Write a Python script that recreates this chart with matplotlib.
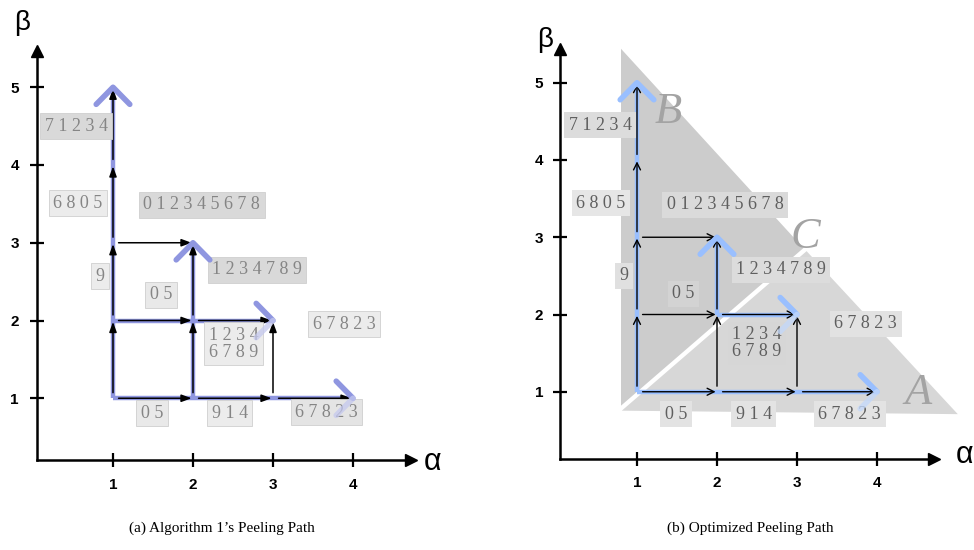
import matplotlib
matplotlib.use("Agg")
import matplotlib.pyplot as plt

# lattice (alpha, beta): black arrows, same in both panels
edges = [((1, 1), (2, 1)), ((2, 1), (3, 1)), ((3, 1), (4, 1)),
         ((1, 1), (1, 2)), ((1, 2), (1, 3)), ((1, 3), (1, 4)), ((1, 4), (1, 5)),
         ((1, 2), (2, 2)), ((2, 2), (3, 2)), ((2, 1), (2, 2)), ((2, 2), (2, 3)),
         ((1, 3), (2, 3)), ((3, 1), (3, 2))]

# blue peeling paths
paths_a = [((1, 1), (1, 5)), ((1, 1), (4, 1)), ((2, 1), (2, 3)), ((1, 2), (3, 2))]
paths_b = [((1, 1), (1, 5)), ((1, 1), (4, 1)), ((2, 2), (2, 3)), ((2, 2), (3, 2))]

alpha_ticks = [1, 2, 3, 4]
beta_ticks = [1, 2, 3, 4, 5]

labels = ["7 1 2 3 4", "6 8 0 5", "0 1 2 3 4 5 6 7 8", "1 2 3 4 7 8 9", "9", "0 5",
          "1 2 3 4\n6 7 8 9", "6 7 8 2 3", "0 5", "9 1 4", "6 7 8 2 3"]
lab_x_a = [0.54, 0.56, 2.11, 2.80, 0.84, 1.60, 2.51, 3.89, 1.49, 2.46, 3.67]
lab_y_a = [4.50, 3.51, 3.49, 2.65, 2.57, 2.33, 1.70, 1.95, 0.81, 0.81, 0.82]
box_a = ["#d9d9d9", "#ececec", "#d9d9d9", "#d9d9d9", "#ececec", "#e9e9e9",
         "#ececec", "#ececec", "#e9e9e9", "#ececec", "#e4e4e4"]
lab_x_b = [0.54, 0.55, 2.10, 2.80, 0.84, 1.58, 2.50, 3.86, 1.49, 2.46, 3.66]
lab_y_b = [4.45, 3.44, 3.42, 2.58, 2.50, 2.27, 1.63, 1.88, 0.71, 0.71, 0.71]
box_b = ["#dcdcdc", "#e6e6e6", "#dadada", "#dcdcdc", "#e0e0e0", "#d3d3d3",
         "#d6d6d6", "#e2e2e2", "#e3e3e3", "#e3e3e3", "#e3e3e3"]

# shaded regions of panel (b)
region_B = [(0.80, 5.44), (0.80, 0.82), (3.08, 2.86)]
region_A = [(0.81, 0.755), (5.01, 0.71), (3.12, 2.82)]
region_names = ["A", "B", "C"]
name_x = [4.51, 1.39, 3.10]
name_y = [0.98, 4.62, 3.00]

W, H = 974, 550
fig = plt.figure(figsize=(W / 100, H / 100), dpi=100)


def make_axes(left_px, right_px, x0px, y0px, sx, sy):
    ax = fig.add_axes([left_px / W, 0, (right_px - left_px) / W, 1])
    ax.set_xlim((left_px - x0px) / sx, (right_px - x0px) / sx)
    ax.set_ylim((y0px - H) / sy, y0px / sy)
    ax.set_facecolor("none")
    for s in ("top", "right"):
        ax.spines[s].set_visible(False)
    return ax


def axes_frame(ax, xa, ya, xtip, ytip, xpad, ypad):
    ax.spines["left"].set_position(("data", xa))
    ax.spines["left"].set_bounds(ya, ytip)
    ax.spines["bottom"].set_position(("data", ya))
    ax.spines["bottom"].set_bounds(xa, xtip)
    for s in ("left", "bottom"):
        ax.spines[s].set_linewidth(1.8)
    ax.plot(xa, ytip, marker="^", ms=9, color="k", clip_on=False, zorder=6)
    ax.plot(xtip, ya, marker=">", ms=9, color="k", clip_on=False, zorder=6)
    ax.set_xticks(alpha_ticks, labels=[str(t) for t in alpha_ticks],
                  fontweight="bold", fontsize=11, family="Liberation Sans")
    ax.set_yticks(beta_ticks, labels=[str(t) for t in beta_ticks],
                  fontweight="bold", fontsize=11, family="Liberation Sans")
    ax.tick_params(axis="x", direction="inout", length=10, width=1.6, pad=xpad)
    ax.tick_params(axis="y", direction="inout", length=10, width=1.6, pad=ypad)


def draw_paths(ax, paths, col, faded):
    for (x1, y1), (x2, y2) in paths:
        ax.plot([x1, x2], [y1, y2], color=col, lw=3.2, zorder=2,
                solid_capstyle="butt")
        if x1 == x2:  # up
            ax.plot([x2 - 0.21, x2, x2 + 0.21], [y2 - 0.22, y2, y2 - 0.22],
                    color=col, lw=4, zorder=5, solid_capstyle="round")
        else:  # right
            ax.plot([x2 - 0.21, x2], [y2 + 0.22, y2], color=col, lw=4,
                    zorder=5, solid_capstyle="round")
            ax.plot([x2 - 0.21, x2], [y2 - 0.22, y2], color=faded, lw=4,
                    zorder=5, solid_capstyle="round", alpha=0.75)


def draw_edges(ax, style, lw):
    for a, b in edges:
        ax.annotate("", xy=b, xytext=a, zorder=3,
                    arrowprops=dict(arrowstyle=style, color="k", lw=lw,
                                    shrinkA=4, shrinkB=1))


def draw_labels(ax, xs, ys, fcs, tc, ec):
    for s, x, y, fc in zip(labels, xs, ys, fcs):
        ax.text(x, y, s, ha="center", va="center", fontsize=13,
                family="Liberation Serif", color=tc, linespacing=1.0, zorder=4,
                bbox=dict(boxstyle="square,pad=0.25", fc=fc, ec=ec, lw=0.6))


# (a) Algorithm 1's peeling path
axa = make_axes(0, 487, 33, 476, 80, 77.75)
axes_frame(axa, 0.05, 0.206, 4.72, 5.47, 8, 8)
draw_paths(axa, paths_a, "#8f96e0", "#c4c8ee")
draw_edges(axa, "-|>,head_length=0.6,head_width=0.22", 1.1)
draw_labels(axa, lab_x_a, lab_y_a, box_a, "#858585", "#cfcfcf")
axa.text(-0.14, 5.83, "β", fontsize=20, family="Liberation Sans", ha="center", va="center")
axa.text(4.99, 0.18, "α", fontsize=22, family="Liberation Sans", ha="center", va="center")

# (b) optimized peeling path
axb = make_axes(487, 974, 557, 469, 80, 77.25)
axes_frame(axb, 0.0375, 0.13, 4.71, 5.44, 7.5, 7)
axb.add_patch(plt.Polygon(region_B, closed=True, fc="#cccccc", ec="none", zorder=0))
axb.add_patch(plt.Polygon(region_A, closed=True, fc="#d7d7d7", ec="none", zorder=0))
for n, x, y in zip(region_names, name_x, name_y):
    axb.text(x, y, n, fontsize=32, family="Liberation Serif", style="italic",
             color="#a3a3a3", ha="center", va="center", zorder=1)
draw_paths(axb, paths_b, "#99bfff", "#c2d8fb")
draw_edges(axb, "->,head_length=0.5,head_width=0.25", 1.0)
draw_labels(axb, lab_x_b, lab_y_b, box_b, "#5f5f5f", "none")
axb.text(-0.15, 5.55, "β", fontsize=20, family="Liberation Sans", ha="center", va="center")
axb.text(5.10, 0.18, "α", fontsize=22, family="Liberation Sans", ha="center", va="center")

fig.text(222 / W, 1 - 528 / H, "(a) Algorithm 1’s Peeling Path", ha="center",
         va="center", fontsize=11, family="Liberation Serif")
fig.text(750 / W, 1 - 528 / H, "(b) Optimized Peeling Path", ha="center",
         va="center", fontsize=11, family="Liberation Serif")

fig.savefig("out.png", dpi=100)
